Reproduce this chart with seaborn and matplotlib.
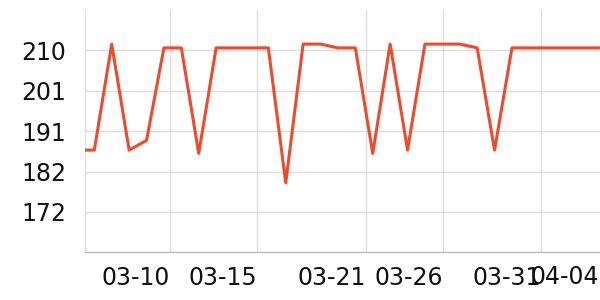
import matplotlib
matplotlib.use("Agg")
import matplotlib.pyplot as plt
import seaborn as sns
import pandas as pd

# data: day index (k) and value
day_index = list(range(-1, 30))
values = [186.7, 186.7, 211.9, 186.7, 189.0, 211.0, 211.0, 185.9, 211.0, 211.0,
          211.0, 211.0, 178.9, 211.9, 211.9, 211.0, 211.0, 185.9, 211.9, 186.7,
          211.9, 211.9, 211.9, 211.0, 186.7, 211.0, 211.0, 211.0, 211.0, 211.0, 211.0]
x_tick_labels = ["", "03-10", "03-15", "03-21", "03-26", "03-31", "04-04"]
x_tick_pos = [-0.506, 4.37, 9.37, 15.61, 20.06, 25.69]
y_tick_labels = ["172", "182", "191", "201", "210"]
y_tick_pos = [172.0, 181.6, 191.2, 200.8, 210.4]

df = pd.DataFrame({"k": day_index, "v": values})

sns.set_theme(style="white")
plt.rcParams["font.family"] = ["DejaVu Sans"]

FS = 17
fig = plt.figure(figsize=(6, 3), dpi=100)
ax = fig.add_axes([85.5 / 600, (300 - 252.3) / 300, (600 - 85.5) / 600, (252.3 - 10) / 300])
sns.lineplot(data=df, x="k", y="v", ax=ax, color="#ee4a2c", linewidth=2.2)

ax.set_xlim(-0.506, 29.06)
ax.set_ylim(162.4, 220.0)
ax.set_xlabel("")
ax.set_ylabel("")

ax.set_yticks(y_tick_pos)
ax.set_yticklabels(y_tick_labels, fontsize=FS, color="#111111")
ax.set_xticks(x_tick_pos)
ax.set_xticklabels(x_tick_labels[:-1], fontsize=FS, color="#111111")
for lbl in ax.get_xticklabels():
    lbl.set_ha("right")

ax.grid(True, color="#dddddd", linewidth=1)
ax.tick_params(axis="y", length=0, pad=14)
ax.tick_params(axis="x", length=3, width=1, color="#bbbbbb", pad=7)
for s in ["top", "right", "left"]:
    ax.spines[s].set_visible(False)
ax.spines["bottom"].set_color("#bbbbbb")
ax.spines["bottom"].set_linewidth(1)

# last label (04-04), pushed inside the figure's right edge
ax.text(0.9985, -0.052, x_tick_labels[-1], transform=ax.transAxes,
        ha="right", va="top", fontsize=FS, color="#111111")

fig.savefig("out.png", dpi=100)
